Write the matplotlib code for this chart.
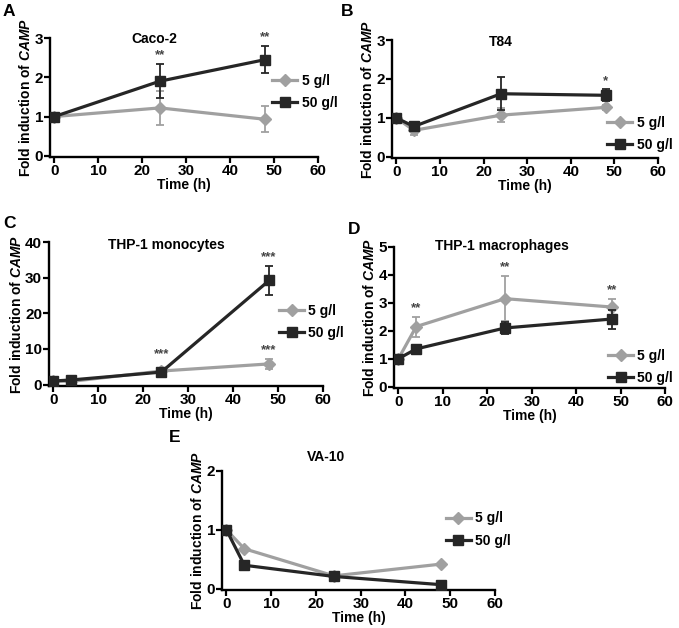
import matplotlib
matplotlib.use("Agg")
import matplotlib.pyplot as plt
from matplotlib.lines import Line2D

plt.rcParams["font.family"] = ["Liberation Sans", "DejaVu Sans"]
plt.rcParams["font.weight"] = "bold"
plt.rcParams["mathtext.fontset"] = "custom"
plt.rcParams["mathtext.it"] = "Liberation Sans:italic:bold"
plt.rcParams["mathtext.rm"] = "Liberation Sans:bold"

# ---- data ----
labels = ["5 g/l", "50 g/l"]

a_time = [0, 24, 48]
a_low = [1.0, 1.22, 0.93]
a_low_err = [0.0, 0.44, 0.33]
a_high = [1.0, 1.9, 2.45]
a_high_err = [0.0, 0.43, 0.35]

b_time = [0, 4, 24, 48]
b_low = [1.0, 0.68, 1.07, 1.27]
b_low_err = [0.0, 0.13, 0.18, 0.06]
b_high = [1.0, 0.78, 1.62, 1.58]
b_high_err = [0.0, 0.05, 0.42, 0.15]

c_time = [0, 4, 24, 48]
c_low = [1.0, 0.9, 3.8, 5.8]
c_low_err = [0.0, 0.2, 0.4, 1.3]
c_high = [1.0, 1.3, 3.5, 29.2]
c_high_err = [0.0, 0.3, 0.5, 4.0]

d_time = [0, 4, 24, 48]
d_low = [1.0, 2.15, 3.15, 2.85]
d_low_err = [0.0, 0.36, 0.8, 0.3]
d_high = [1.0, 1.35, 2.1, 2.42]
d_high_err = [0.0, 0.05, 0.22, 0.34]

e_time = [0, 4, 24, 48]
e_low = [1.0, 0.68, 0.22, 0.42]
e_high = [1.0, 0.4, 0.21, 0.07]

W, H = 679, 628
GREY = "#a0a0a0"
DARK = "#262626"

fig = plt.figure(figsize=(W / 100, H / 100), dpi=100)


def px_axes(left, top, right, bottom):
    return fig.add_axes([left / W, 1 - bottom / H, (right - left) / W, (bottom - top) / H])


def draw_panel(ax, t, low, high, low_err, high_err, ymax, ystep, title, tpos, legpos, stars):
    ax.errorbar(t, low, yerr=low_err, color=GREY, marker="D", markersize=6.5,
                lw=2.3, elinewidth=1.3, capsize=3, capthick=1.3, zorder=2)
    ax.errorbar(t, high, yerr=high_err, color=DARK, marker="s", markersize=7,
                lw=2.3, elinewidth=1.3, capsize=3, capthick=1.3, zorder=3)
    ax.set_xlim(-1, 60)
    ax.set_ylim(-ymax * 0.01, ymax)
    ax.set_xticks(range(0, 61, 10))
    ax.set_yticks([i * ystep for i in range(int(round(ymax / ystep)) + 1)])
    for s in ("top", "right"):
        ax.spines[s].set_visible(False)
    for s in ("left", "bottom"):
        ax.spines[s].set_linewidth(1.7)
    ax.tick_params(direction="out", length=4, width=1.6, labelsize=11, pad=1)
    ax.set_xlabel("Time (h)", fontsize=10, fontweight="bold", labelpad=0)
    ax.set_ylabel(r"Fold induction of $\mathit{CAMP}$", fontsize=10, fontweight="bold", labelpad=1)
    ax.text(tpos[0], tpos[1], title, transform=ax.transAxes, ha="center", va="center",
            fontsize=10, fontweight="bold")
    handles = [
        Line2D([], [], color=GREY, marker="D", markersize=6.5, lw=2.3),
        Line2D([], [], color=DARK, marker="s", markersize=7, lw=2.3),
    ]
    ax.legend(handles, labels, loc="upper left", bbox_to_anchor=legpos, frameon=False,
              fontsize=10, handlelength=1.8, handletextpad=0.3, labelspacing=0.6,
              borderpad=0, borderaxespad=0)
    for x, y, s in stars:
        ax.annotate(s, (x, y), xytext=(0, 2), textcoords="offset points",
                    ha="center", va="bottom", fontsize=9.5, color="#444444")


ax = px_axes(50, 38, 318, 157)
draw_panel(ax, a_time, a_low, a_high, a_low_err, a_high_err, 3, 1, "Caco-2",
           (0.39, 0.99), (0.83, 0.70),
           [(24, a_high[1] + a_high_err[1], "**"), (48, a_high[2] + a_high_err[2], "**")])

ax = px_axes(392, 40, 658, 158)
draw_panel(ax, b_time, b_low, b_high, b_low_err, b_high_err, 3, 1, "T84",
           (0.41, 0.98), (0.81, 0.36),
           [(48, b_high[3] + b_high_err[3], "*")])

ax = px_axes(49, 242, 323, 386)
draw_panel(ax, c_time, c_low, c_high, c_low_err, c_high_err, 40, 10, "THP-1 monocytes",
           (0.43, 0.98), (0.84, 0.57),
           [(24, c_high[2] + c_high_err[2] + 2, "***"), (48, c_high[3] + c_high_err[3], "***"),
            (48, c_low[3] + c_low_err[3], "***")])

ax = px_axes(394, 247, 665, 388)
draw_panel(ax, d_time, d_low, d_high, d_low_err, d_high_err, 5, 1, "THP-1 macrophages",
           (0.40, 1.01), (0.79, 0.28),
           [(4, d_low[1] + d_low_err[1], "**"), (24, d_low[2] + d_low_err[2], "**"),
            (48, d_low[3] + d_low_err[3], "**")])

ax = px_axes(222, 471, 495, 590)
draw_panel(ax, e_time, e_low, e_high, None, None, 2, 1, "VA-10",
           (0.38, 1.12), (0.82, 0.66), [])

for letter, x, y in [("A", 9, 11), ("B", 347, 11), ("C", 9, 223), ("D", 354, 229), ("E", 175, 438)]:
    fig.text(x / W, 1 - y / H, letter, ha="center", va="center", fontsize=12.5, fontweight="bold")

fig.savefig("out.png", dpi=100)
